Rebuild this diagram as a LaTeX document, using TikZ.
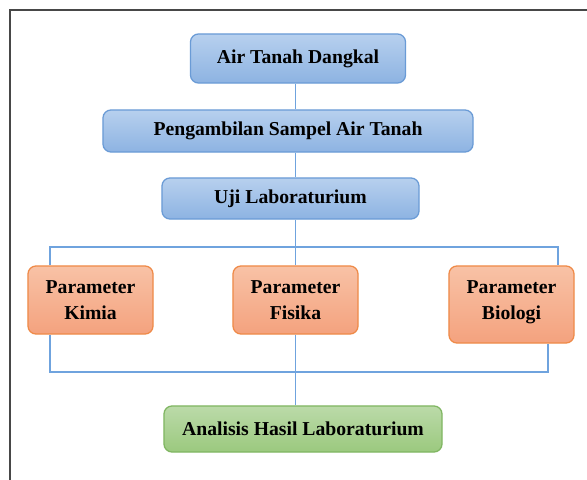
\documentclass[tikz,border=0pt]{standalone}
\usepackage{fontspec}
\setmainfont{Liberation Serif}
\usepackage{tikz}
\usetikzlibrary{positioning}
\usepackage{xcolor}
\definecolor{bluetop}{HTML}{B7D0EE}
\definecolor{bluebot}{HTML}{8DB3E2}
\definecolor{blueline}{HTML}{6A9BD6}
\definecolor{orangetop}{HTML}{F8C2A6}
\definecolor{orangebot}{HTML}{F4A27E}
\definecolor{orangeline}{HTML}{EF8A48}
\definecolor{greentop}{HTML}{BBDAA9}
\definecolor{greenbot}{HTML}{9BC97E}
\definecolor{greenline}{HTML}{80B662}
\definecolor{linkcol}{HTML}{6FA3DE}
\tikzset{
  box/.style={rounded corners=0.2cm,line width=0.9pt,inner sep=0pt,align=center,
    font=\bfseries\fontsize{14}{18.5}\selectfont},
  bluebox/.style={box,draw=blueline,top color=bluetop,bottom color=bluebot},
  orangebox/.style={box,draw=orangeline,top color=orangetop,bottom color=orangebot},
  greenbox/.style={box,draw=greenline,top color=greentop,bottom color=greenbot},
  link/.style={linkcol,line width=1pt}
}

\begin{document}
\begin{tikzpicture}[x=0.025cm,y=-0.025cm]
      \useasboundingbox[fill=white] (0,0) rectangle (587,480);
      % frame
      \draw[black!72,line width=1.4pt] (10,480) -- (10,10) -- (587,10);
      % boxes
      \node[bluebox,minimum width=5.375cm,minimum height=1.225cm] (air) at (298,58.5) {Air Tanah Dangkal};
      \node[bluebox,minimum width=9.25cm,minimum height=1.05cm] (sampel) at (288,131) {Pengambilan Sampel Air Tanah};
      \node[bluebox,minimum width=6.425cm,minimum height=1.025cm] (uji) at (290.5,198.5) {Uji Laboraturium};
      \node[orangebox,minimum width=3.125cm,minimum height=1.7cm] (kimia) at (90.5,300) {Parameter\\Kimia};
      \node[orangebox,minimum width=3.125cm,minimum height=1.7cm] (fisika) at (295.5,300) {Parameter\\Fisika};
      \node[orangebox,minimum width=3.125cm,minimum height=1.925cm,text depth=6.5pt] (biologi) at (511.5,304.5) {Parameter\\Biologi};
      \node[greenbox,minimum width=6.95cm,minimum height=1.15cm] (analisis) at (303,429) {Analisis Hasil Laboraturium};
      % bus lines
      \coordinate (topL) at (50,247);
      \coordinate (topR) at (558,247);
      \coordinate (botL) at (50,372);
      \coordinate (botR) at (548,372);
      \draw[link] (air.south -| fisika.north) -- (sampel.north -| fisika.north);
      \draw[link] (sampel.south -| fisika.north) -- (uji.north -| fisika.north);
      \draw[link] (uji.south -| fisika.north) -- (fisika.north);
      \draw[link] (kimia.north -| topL) -- (topL) -- (topR) -- (biologi.north -| topR);
      \draw[link] (kimia.south -| botL) -- (botL) -- (botR) -- (biologi.south -| botR);
      \draw[link] (fisika.south) -- (analisis.north -| fisika.south);
\end{tikzpicture}
\end{document}
